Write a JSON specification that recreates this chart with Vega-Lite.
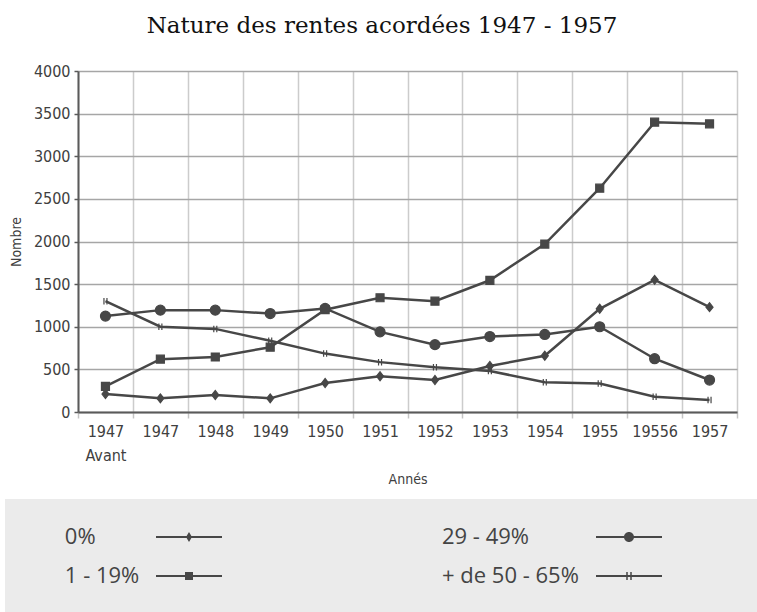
{
  "$schema": "https://vega.github.io/schema/vega-lite/v6.json",
  "width": 659,
  "height": 341,
  "autosize": "none",
  "padding": {"left": 78, "top": 71, "right": 20, "bottom": 200},
  "background": "white",
  "title": {
    "text": "Nature des rentes acordées 1947 - 1957",
    "font": "DejaVu Serif",
    "fontSize": 23,
    "fontWeight": "normal",
    "color": "#111111",
    "anchor": "middle",
    "offset": 25,
    "dx": -25.5
  },
  "config": {
    "view": {"stroke": null}
  },
  "data": {
    "values": [
      {"serie": "0%", "annee": "1947 Avant", "nombre": 210},
      {"serie": "0%", "annee": "1947", "nombre": 160},
      {"serie": "0%", "annee": "1948", "nombre": 200},
      {"serie": "0%", "annee": "1949", "nombre": 160},
      {"serie": "0%", "annee": "1950", "nombre": 340},
      {"serie": "0%", "annee": "1951", "nombre": 420},
      {"serie": "0%", "annee": "1952", "nombre": 375},
      {"serie": "0%", "annee": "1953", "nombre": 540},
      {"serie": "0%", "annee": "1954", "nombre": 660},
      {"serie": "0%", "annee": "1955", "nombre": 1210},
      {"serie": "0%", "annee": "19556", "nombre": 1550},
      {"serie": "0%", "annee": "1957", "nombre": 1230},
      {"serie": "1 - 19%", "annee": "1947 Avant", "nombre": 300},
      {"serie": "1 - 19%", "annee": "1947", "nombre": 620},
      {"serie": "1 - 19%", "annee": "1948", "nombre": 645},
      {"serie": "1 - 19%", "annee": "1949", "nombre": 760},
      {"serie": "1 - 19%", "annee": "1950", "nombre": 1200},
      {"serie": "1 - 19%", "annee": "1951", "nombre": 1340},
      {"serie": "1 - 19%", "annee": "1952", "nombre": 1300},
      {"serie": "1 - 19%", "annee": "1953", "nombre": 1545},
      {"serie": "1 - 19%", "annee": "1954", "nombre": 1970},
      {"serie": "1 - 19%", "annee": "1955", "nombre": 2625},
      {"serie": "1 - 19%", "annee": "19556", "nombre": 3400},
      {"serie": "1 - 19%", "annee": "1957", "nombre": 3380},
      {"serie": "29 - 49%", "annee": "1947 Avant", "nombre": 1125},
      {"serie": "29 - 49%", "annee": "1947", "nombre": 1195},
      {"serie": "29 - 49%", "annee": "1948", "nombre": 1195},
      {"serie": "29 - 49%", "annee": "1949", "nombre": 1155},
      {"serie": "29 - 49%", "annee": "1950", "nombre": 1215},
      {"serie": "29 - 49%", "annee": "1951", "nombre": 940},
      {"serie": "29 - 49%", "annee": "1952", "nombre": 790},
      {"serie": "29 - 49%", "annee": "1953", "nombre": 885},
      {"serie": "29 - 49%", "annee": "1954", "nombre": 910},
      {"serie": "29 - 49%", "annee": "1955", "nombre": 1000},
      {"serie": "29 - 49%", "annee": "19556", "nombre": 625},
      {"serie": "29 - 49%", "annee": "1957", "nombre": 375},
      {"serie": "+ de 50 - 65%", "annee": "1947 Avant", "nombre": 1300},
      {"serie": "+ de 50 - 65%", "annee": "1947", "nombre": 1000},
      {"serie": "+ de 50 - 65%", "annee": "1948", "nombre": 975},
      {"serie": "+ de 50 - 65%", "annee": "1949", "nombre": 835},
      {"serie": "+ de 50 - 65%", "annee": "1950", "nombre": 685},
      {"serie": "+ de 50 - 65%", "annee": "1951", "nombre": 585},
      {"serie": "+ de 50 - 65%", "annee": "1952", "nombre": 525},
      {"serie": "+ de 50 - 65%", "annee": "1953", "nombre": 480},
      {"serie": "+ de 50 - 65%", "annee": "1954", "nombre": 350},
      {"serie": "+ de 50 - 65%", "annee": "1955", "nombre": 335},
      {"serie": "+ de 50 - 65%", "annee": "19556", "nombre": 180},
      {"serie": "+ de 50 - 65%", "annee": "1957", "nombre": 140}
    ]
  },
  "encoding": {
    "x": {
      "field": "annee",
      "type": "nominal",
      "sort": ["1947 Avant", "1947", "1948", "1949", "1950", "1951", "1952", "1953", "1954", "1955", "19556", "1957"],
      "scale": {"type": "band", "paddingInner": 0, "paddingOuter": 0},
      "axis": {
        "title": "Annés",
        "labelAngle": 0,
        "tickBand": "extent",
        "grid": true,
        "gridColor": "#cccccc",
        "gridWidth": 1.5,
        "domainColor": "#5a5a5a",
        "domainWidth": 2,
        "tickColor": "#c4c4c4",
        "tickSize": 6,
        "tickWidth": 1.5,
        "labelFont": "DejaVu Sans Condensed",
        "labelFontSize": 16,
        "labelColor": "#404040",
        "labelPadding": 5,
        "labelLineHeight": 24,
        "labelExpr": "datum.value == '1947 Avant' ? ['1947', 'Avant'] : datum.value",
        "titleFont": "DejaVu Sans Condensed",
        "titleFontSize": 14,
        "titleFontWeight": "normal",
        "titleColor": "#404040",
        "titlePadding": 9
      }
    },
    "y": {
      "field": "nombre",
      "type": "quantitative",
      "scale": {"domain": [0, 4000], "nice": false},
      "axis": {
        "title": "Nombre",
        "format": "d",
        "values": [0, 500, 1000, 1500, 2000, 2500, 3000, 3500, 4000],
        "grid": true,
        "gridColor": "#a6a6a6",
        "gridWidth": 1.5,
        "domainColor": "#5a5a5a",
        "domainWidth": 2,
        "tickColor": "#5a5a5a",
        "tickSize": 4,
        "tickWidth": 1.5,
        "labelFont": "DejaVu Sans Condensed",
        "labelFontSize": 16,
        "labelColor": "#404040",
        "labelPadding": 4,
        "titleFont": "DejaVu Sans Condensed",
        "titleFontSize": 14,
        "titleFontWeight": "normal",
        "titleColor": "#404040",
        "titlePadding": 10
      }
    }
  },
  "layer": [
    {
      "mark": {"type": "line", "color": "#474747", "strokeWidth": 2.5},
      "encoding": {"detail": {"field": "serie", "type": "nominal"}}
    },
    {
      "mark": {"type": "point", "fill": "#474747", "stroke": "#474747", "strokeWidth": 1.2, "opacity": 1, "size": 100},
      "encoding": {
        "shape": {
          "field": "serie",
          "type": "nominal",
          "scale": {
            "domain": ["0%", "1 - 19%", "29 - 49%", "+ de 50 - 65%"],
            "range": [
              "M-0.7,0L0,-0.9L0.7,0L0,0.9Z",
              "M-0.8,-0.8L0.8,-0.8L0.8,0.8L-0.8,0.8Z",
              "circle",
              "M-0.3,-0.65L-0.3,0.65M0.3,-0.65L0.3,0.65"
            ]
          },
          "legend": null
        }
      }
    },
    {
      "mark": {"type": "point", "fill": "#474747", "filled": true, "opacity": 0, "size": 100},
      "encoding": {
        "shape": {
          "field": "serie",
          "type": "nominal",
          "scale": {
            "domain": ["0%", "1 - 19%", "29 - 49%", "+ de 50 - 65%"],
            "range": [
              "M-6.6,-0.22L6.6,-0.22L6.6,0.22L-6.6,0.22ZM-0.6,0L0,-1L0.6,0L0,1Z",
              "M-6.6,-0.22L6.6,-0.22L6.6,0.22L-6.6,0.22ZM-0.8,-0.8L0.8,-0.8L0.8,0.8L-0.8,0.8Z",
              "M-6.6,-0.22L6.6,-0.22L6.6,0.22L-6.6,0.22ZM1,0A1,1,0,1,1,-1,0A1,1,0,1,1,1,0Z",
              "M-6.6,-0.22L6.6,-0.22L6.6,0.22L-6.6,0.22ZM-0.55,-0.8L-0.25,-0.8L-0.25,0.8L-0.55,0.8ZM0.25,-0.8L0.55,-0.8L0.55,0.8L0.25,0.8Z"
            ]
          },
          "legend": {
            "orient": "none",
            "legendX": -73,
            "legendY": 428,
            "columns": 2,
            "direction": "vertical",
            "fillColor": "#ebebeb",
            "strokeColor": null,
            "padding": 27,
            "title": "\u00a0",
            "titleOrient": "left",
            "titleFontSize": 1,
            "titlePadding": 146,
            "labelFont": "Open Sans",
            "labelFontSize": 22,
            "labelColor": "#444444",
            "labelAlign": "left",
            "labelOffset": -198,
            "labelLimit": 2000,
            "labelExpr": "datum.label === '0%' || datum.label === '1 - 19%' ? '\u200b\u00a0\u00a0\u00a0\u00a0\u00a0\u00a0\u00a0\u00a0\u00a0\u00a0\u00a0' + datum.label : datum.label === '29 - 49%' ? datum.label + '\u00a0\u00a0\u00a0\u00a0\u00a0\u00a0\u00a0\u00a0\u00a0\u00a0\u00a0\u00a0\u00a0\u00a0\u00a0\u00a0\u00a0\u00a0\u00a0\u00a0\u00a0\u00a0\u00a0\u00a0\u00a0\u00a0\u00a0\u00a0\u00a0\u00a0\u00a0\u00a0\u00a0\u00a0\u00a0\u00a0\u200b' : datum.label + '\u00a0\u00a0\u00a0\u00a0\u00a0\u00a0\u00a0\u00a0\u00a0\u00a0\u00a0\u00a0\u00a0\u00a0\u00a0\u00a0\u00a0\u00a0\u00a0\u00a0\u00a0\u00a0\u00a0\u00a0\u00a0\u00a0\u200b'",
            "symbolSize": 100,
            "symbolStrokeWidth": 0,
            "symbolOpacity": 1,
            "symbolFillColor": "#474747",
            "columnPadding": 220,
            "rowPadding": 17
          }
        }
      }
    }
  ],
  "resolve": {"scale": {"shape": "independent"}, "legend": {"shape": "independent"}}
}
